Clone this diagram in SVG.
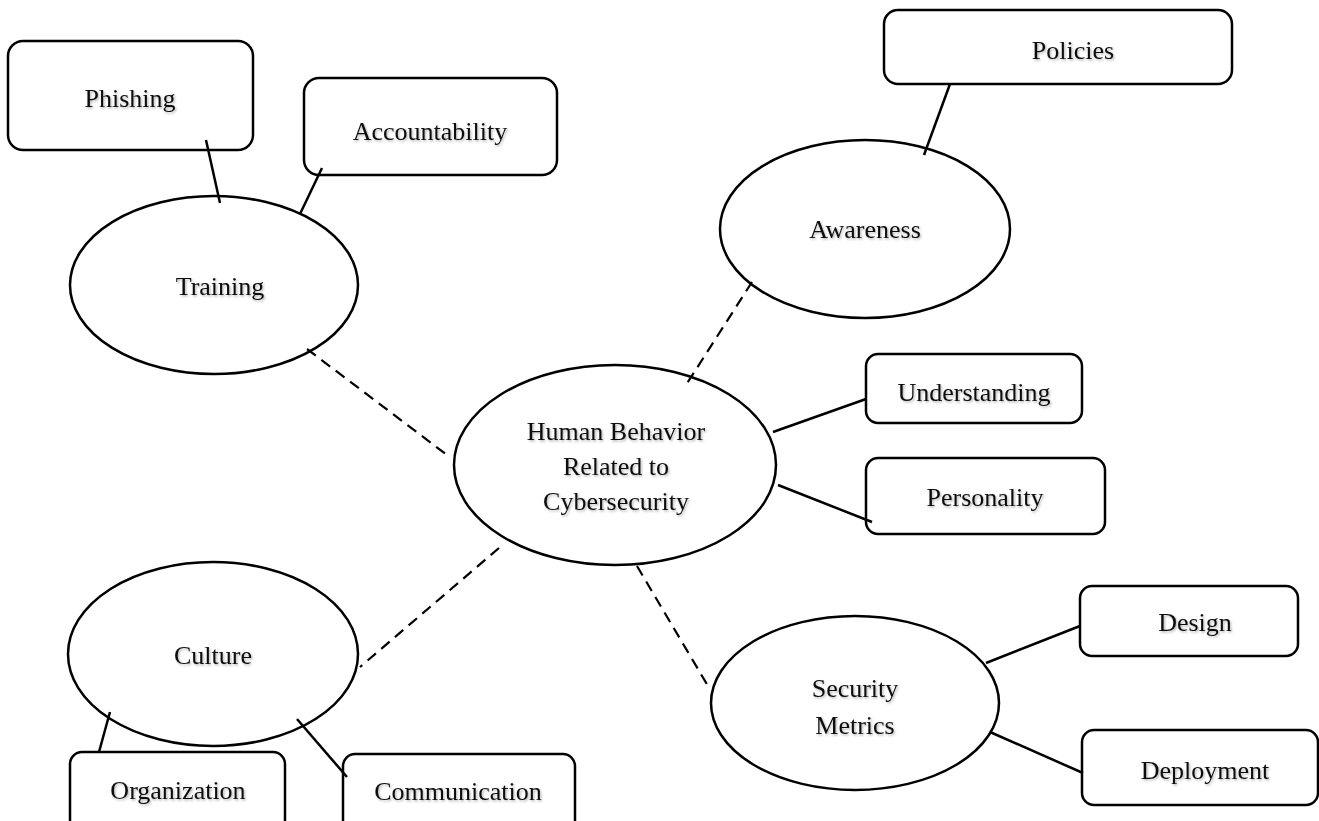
<svg xmlns="http://www.w3.org/2000/svg" width="1319" height="821" viewBox="0 0 1319 821">
<defs>
<filter id="sh" x="-10%" y="-30%" width="120%" height="160%">
<feDropShadow dx="1.2" dy="1.5" stdDeviation="0.9" flood-color="#000" flood-opacity="0.3"/>
</filter>
</defs>
<style>
.n{fill:#fff;stroke:#000;stroke-width:2.5}
.t{font-family:"Liberation Serif","Times New Roman",serif;font-size:26px;fill:#111;text-anchor:middle;filter:url(#sh)}
.s{stroke:#000;stroke-width:2.5;fill:none}
.d{stroke:#000;stroke-width:2.2;fill:none;stroke-dasharray:11,7}
</style>
<rect width="1319" height="821" fill="#fff"/>
<g id="phishing"><rect class="n" x="8" y="41" width="245" height="109" rx="15"/><text class="t" x="130" y="107">Phishing</text></g>
<g id="accountability"><rect class="n" x="304" y="78" width="253" height="97" rx="15"/><text class="t" x="430" y="140">Accountability</text></g>
<g id="training"><ellipse class="n" cx="214" cy="285" rx="144" ry="89"/><text class="t" x="220" y="295">Training</text></g>
<g id="center"><ellipse class="n" cx="615" cy="465" rx="161" ry="100"/><text class="t" x="616" y="440">Human Behavior</text><text class="t" x="616" y="475">Related to</text><text class="t" x="616" y="510">Cybersecurity</text></g>
<g id="policies"><rect class="n" x="884" y="10" width="348" height="74" rx="14"/><text class="t" x="1073" y="59">Policies</text></g>
<g id="awareness"><ellipse class="n" cx="865" cy="229" rx="145" ry="89"/><text class="t" x="865" y="238">Awareness</text></g>
<g id="understanding"><rect class="n" x="866" y="354" width="216" height="69" rx="12"/><text class="t" x="974" y="401">Understanding</text></g>
<g id="personality"><rect class="n" x="866" y="458" width="239" height="76" rx="12"/><text class="t" x="985" y="506">Personality</text></g>
<g id="culture"><ellipse class="n" cx="213" cy="654" rx="145" ry="92"/><text class="t" x="213" y="664">Culture</text></g>
<g id="organization"><rect class="n" x="70" y="752" width="215" height="80" rx="12"/><text class="t" x="178" y="799">Organization</text></g>
<g id="communication"><rect class="n" x="343" y="754" width="232" height="80" rx="12"/><text class="t" x="458" y="800">Communication</text></g>
<g id="security"><ellipse class="n" cx="855" cy="703" rx="144" ry="87"/><text class="t" x="855" y="697">Security</text><text class="t" x="855" y="734">Metrics</text></g>
<g id="design"><rect class="n" x="1080" y="586" width="218" height="70" rx="12"/><text class="t" x="1195" y="631">Design</text></g>
<g id="deployment"><rect class="n" x="1082" y="730" width="236" height="75" rx="12"/><text class="t" x="1205" y="779">Deployment</text></g>
<g id="connectors">
<line class="s" x1="206" y1="140" x2="220" y2="203"/>
<line class="s" x1="322" y1="168" x2="300" y2="214"/>
<line class="d" x1="307" y1="349" x2="447" y2="455"/>
<line class="s" x1="950" y1="84" x2="924" y2="155"/>
<line class="d" x1="752" y1="282" x2="686" y2="385"/>
<line class="s" x1="773" y1="432" x2="866" y2="399"/>
<line class="s" x1="778" y1="485" x2="872" y2="522"/>
<line class="d" x1="499" y1="548" x2="360" y2="667"/>
<line class="s" x1="110" y1="712" x2="99" y2="752"/>
<line class="s" x1="297" y1="719" x2="347" y2="777"/>
<line class="d" x1="637" y1="566" x2="708" y2="686"/>
<line class="s" x1="986" y1="663" x2="1080" y2="626"/>
<line class="s" x1="990" y1="732" x2="1083" y2="773"/>
</g>
</svg>
